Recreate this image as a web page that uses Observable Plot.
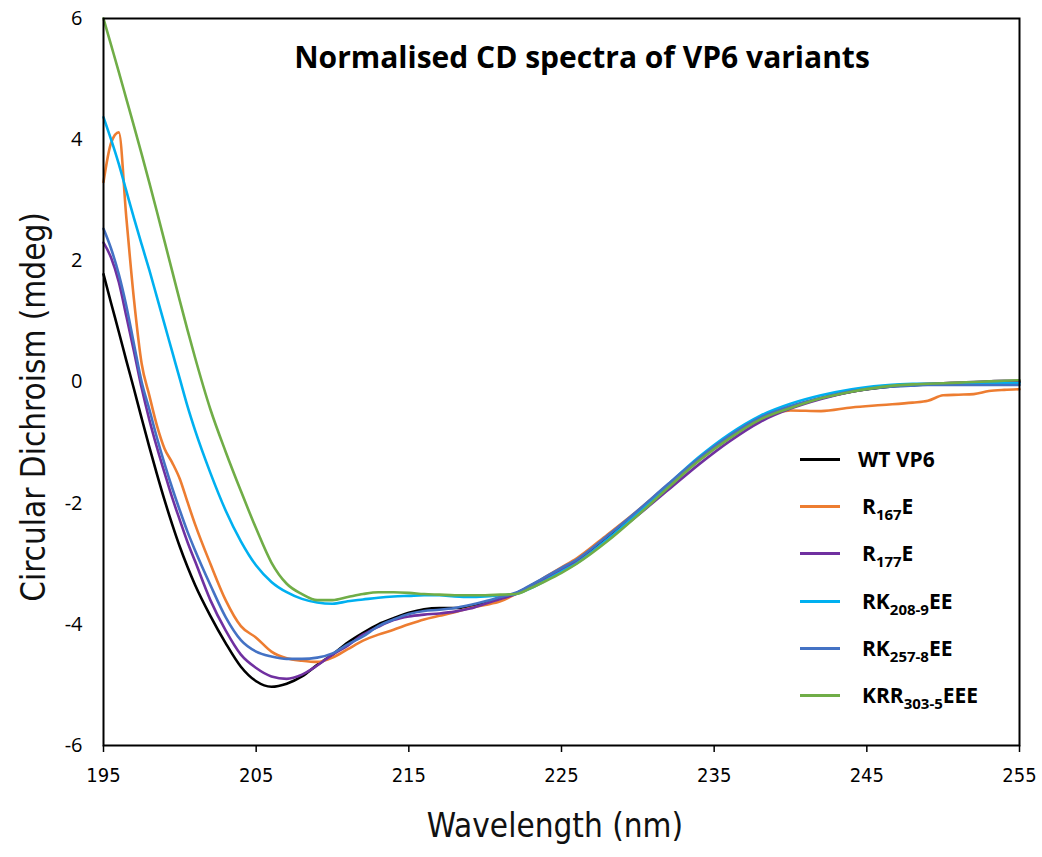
<!DOCTYPE html>
<html>
<head>
<meta charset="utf-8">
<script src="https://cdn.jsdelivr.net/npm/d3@7"></script>
<script src="https://cdn.jsdelivr.net/npm/@observablehq/plot@0.6"></script>
<style>
  body { margin: 0; background: #fff; }
  #wrap { position: relative; width: 1042px; height: 857px; overflow: hidden; }
  #wrap svg { position: absolute; left: 0; top: 0; }
  .title { position: absolute; left: 582px; top: 36px; transform: translateX(-50%); white-space: nowrap;
           font-family: "Open Sans", sans-serif; font-weight: 700; font-size: 30px; color: #000; }
  .xlab { position: absolute; left: 555px; top: 806px; transform: translateX(-50%); white-space: nowrap;
          font-family: "Liberation Sans Narrow", "DejaVu Sans Condensed", sans-serif; font-size: 33px; color: #111; }
  .ylab { position: absolute; left: 33px; top: 407px; transform: translate(-50%, -50%) rotate(-90deg); white-space: nowrap;
          font-family: "Liberation Sans Narrow", "DejaVu Sans Condensed", sans-serif; font-size: 33px; color: #111; }
  .legend { position: absolute; left: 800px; top: 436px; }
  .row { display: flex; align-items: center; height: 47.2px; }
  .swatch { width: 40px; height: 3px; margin-right: 18px; }
  .lab { font-family: "Open Sans", sans-serif; font-weight: 700; font-size: 21px; color: #000; line-height: 1; }
  .lab sub { font-size: 15px; vertical-align: -6px; line-height: 0; }
</style>
</head>
<body>
<div id="wrap"></div>
<script>
// Wavelength grid (nm)
const wavelength = [195, 195.5, 196, 196.5, 197, 197.5, 198, 198.5, 199, 199.5, 200, 200.5, 201, 202, 203, 204, 205, 206, 207, 208, 209, 210, 211, 212, 213, 214, 215, 216, 217, 218, 219, 220, 221, 222, 223, 224, 225, 226, 228, 230, 232, 234, 236, 238, 240, 242, 244, 246, 248, 249, 250, 251, 252, 253, 254, 255];

// CD values (mdeg), one array per variant
const wtVP6 = [1.78, 1.3, 0.83, 0.35, -0.12, -0.6, -1.07, -1.52, -1.95, -2.35, -2.72, -3.05, -3.35, -3.86, -4.31, -4.7, -4.94, -5.03, -4.98, -4.86, -4.67, -4.5, -4.3, -4.14, -4.0, -3.9, -3.81, -3.75, -3.73, -3.73, -3.7, -3.64, -3.57, -3.49, -3.36, -3.22, -3.08, -2.94, -2.56, -2.14, -1.7, -1.27, -0.9, -0.6, -0.41, -0.27, -0.16, -0.09, -0.05, -0.04, -0.03, -0.02, -0.02, -0.01, -0.01, 0.0];
const r167E = [3.3, 3.95, 4.12, 2.7, 1.35, 0.3, -0.22, -0.72, -1.1, -1.33, -1.6, -1.98, -2.35, -3.0, -3.6, -4.03, -4.22, -4.45, -4.56, -4.6, -4.62, -4.55, -4.41, -4.27, -4.17, -4.09, -4.0, -3.92, -3.86, -3.8, -3.73, -3.68, -3.62, -3.5, -3.36, -3.21, -3.06, -2.91, -2.52, -2.12, -1.69, -1.27, -0.92, -0.62, -0.47, -0.48, -0.42, -0.38, -0.34, -0.31, -0.22, -0.21, -0.2, -0.15, -0.13, -0.12];
const r177E = [2.3, 2.05, 1.65, 1.08, 0.5, -0.1, -0.62, -1.08, -1.5, -1.91, -2.28, -2.64, -2.96, -3.6, -4.1, -4.5, -4.72, -4.86, -4.9, -4.83, -4.68, -4.5, -4.35, -4.17, -4.04, -3.93, -3.87, -3.84, -3.82, -3.79, -3.74, -3.66, -3.58, -3.5, -3.37, -3.24, -3.1, -2.97, -2.6, -2.2, -1.78, -1.36, -0.98, -0.66, -0.44, -0.28, -0.16, -0.08, -0.04, -0.03, -0.02, -0.01, 0.0, 0.01, 0.02, 0.02];
const rk208EE = [4.37, 4.0, 3.6, 3.15, 2.7, 2.27, 1.85, 1.4, 0.95, 0.5, 0.05, -0.4, -0.8, -1.5, -2.12, -2.63, -3.03, -3.3, -3.47, -3.58, -3.64, -3.66, -3.62, -3.59, -3.56, -3.54, -3.53, -3.52, -3.52, -3.54, -3.55, -3.54, -3.52, -3.5, -3.4, -3.27, -3.13, -2.99, -2.6, -2.16, -1.69, -1.24, -0.86, -0.56, -0.36, -0.22, -0.12, -0.06, -0.03, -0.03, -0.03, -0.03, -0.03, -0.02, -0.02, -0.02];
const rk257EE = [2.53, 2.2, 1.78, 1.25, 0.62, 0.0, -0.45, -0.92, -1.35, -1.75, -2.12, -2.47, -2.78, -3.35, -3.88, -4.26, -4.45, -4.53, -4.57, -4.57, -4.55, -4.48, -4.33, -4.2, -4.03, -3.92, -3.83, -3.78, -3.76, -3.73, -3.68, -3.62, -3.55, -3.48, -3.35, -3.21, -3.07, -2.93, -2.54, -2.12, -1.68, -1.26, -0.89, -0.59, -0.4, -0.26, -0.15, -0.09, -0.06, -0.05, -0.05, -0.05, -0.05, -0.05, -0.05, -0.05];
const krr303EEE = [6.0, 5.56, 5.12, 4.67, 4.22, 3.76, 3.29, 2.81, 2.32, 1.83, 1.34, 0.86, 0.4, -0.45, -1.15, -1.8, -2.42, -2.98, -3.33, -3.5, -3.6, -3.6, -3.55, -3.5, -3.47, -3.47, -3.48, -3.5, -3.51, -3.52, -3.52, -3.52, -3.51, -3.5, -3.4, -3.28, -3.15, -3.0, -2.63, -2.2, -1.74, -1.3, -0.93, -0.62, -0.43, -0.27, -0.16, -0.08, -0.04, -0.03, -0.02, -0.01, 0.0, 0.01, 0.02, 0.03];

const seriesNames = ["WT VP6", "R167E", "R177E", "RK208-9EE", "RK257-8EE", "KRR303-5EEE"];
const seriesValues = [wtVP6, r167E, r177E, rk208EE, rk257EE, krr303EEE];
const seriesColors = ["#000000", "#ED7D31", "#7030A0", "#00B0F0", "#4472C4", "#70AD47"];
// legend labels: [main, subscript, suffix]
const legendParts = [["WT VP6", "", ""], ["R", "167", "E"], ["R", "177", "E"], ["RK", "208-9", "EE"], ["RK", "257-8", "EE"], ["KRR", "303-5", "EEE"]];
const xTicks = [195, 205, 215, 225, 235, 245, 255];
const yTicks = [-6, -4, -2, 0, 2, 4, 6];
const titleText = "Normalised CD spectra of VP6 variants";
const xLabel = "Wavelength (nm)";
const yLabel = "Circular Dichroism (mdeg)";

const rows = [];
seriesValues.forEach((vals, i) => vals.forEach((v, j) => rows.push({series: seriesNames[i], wl: wavelength[j], cd: v})));

const chart = Plot.plot({
  width: 1042,
  height: 857,
  marginLeft: 103,
  marginRight: 23,
  marginTop: 18,
  marginBottom: 112,
  style: {background: "#fff", color: "#000"},
  x: {domain: [195, 255]},
  y: {domain: [-6, 6]},
  color: {domain: seriesNames, range: seriesColors},
  marks: [
    Plot.line(rows, {x: "wl", y: "cd", z: "series", stroke: "series", strokeWidth: 2.6, curve: "monotone-x"}),
    Plot.frame({stroke: "#000", strokeWidth: 2}),
    Plot.axisX({ticks: xTicks, tickSize: 7, tickPadding: 15, strokeWidth: 1.5, fontSize: 20, fontFamily: "Liberation Sans Narrow, DejaVu Sans Condensed, sans-serif", label: null, tickFormat: d => String(d)}),
    Plot.axisY({ticks: yTicks, tickSize: 0, tickPadding: 21, fontSize: 20, fontFamily: "Open Sans, sans-serif", label: null, tickFormat: d => String(d)})
  ]
});

const wrap = document.getElementById("wrap");
wrap.appendChild(chart);

const t = document.createElement("div"); t.className = "title"; t.textContent = titleText; wrap.appendChild(t);
const xl = document.createElement("div"); xl.className = "xlab"; xl.textContent = xLabel; wrap.appendChild(xl);
const yl = document.createElement("div"); yl.className = "ylab"; yl.textContent = yLabel; wrap.appendChild(yl);

const leg = document.createElement("div"); leg.className = "legend";
legendParts.forEach((p, i) => {
  const r = document.createElement("div"); r.className = "row";
  const s = document.createElement("div"); s.className = "swatch"; s.style.background = seriesColors[i];
  const l = document.createElement("div"); l.className = "lab";
  l.appendChild(document.createTextNode(p[0]));
  if (p[1]) { const sb = document.createElement("sub"); sb.textContent = p[1]; l.appendChild(sb); }
  if (p[2]) l.appendChild(document.createTextNode(p[2]));
  if (i > 0) l.style.marginLeft = "4px";
  r.appendChild(s); r.appendChild(l); leg.appendChild(r);
});
wrap.appendChild(leg);
</script>
</body>
</html>
